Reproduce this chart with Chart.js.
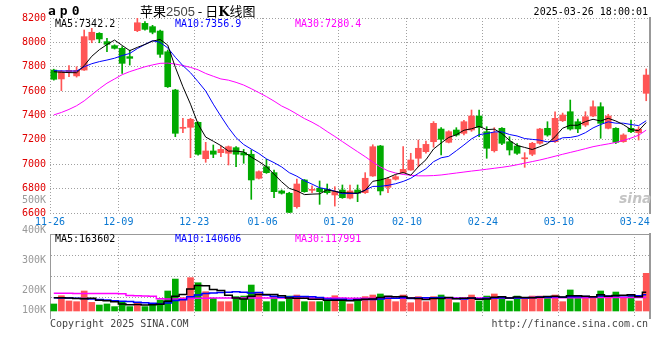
<!DOCTYPE html>
<html><head><meta charset="utf-8">
<script src="https://cdn.jsdelivr.net/npm/chart.js@4"></script>
<style>
html,body{margin:0;padding:0;background:#fff;}
#wrap{position:relative;width:660px;height:360px;overflow:hidden;font-family:'DejaVu Sans Mono',monospace;}
canvas{position:absolute;left:0;}
#cA{top:0;}
#cB{top:190px;}
.t{position:absolute;white-space:nowrap;font-size:10px;line-height:12px;font-family:'DejaVu Sans Mono',monospace;}
</style></head><body>
<div id="wrap">
<canvas id="cA" width="660" height="236"></canvas>
<canvas id="cB" width="660" height="170"></canvas>
<div class="t" style="left:48px;top:3px;font:bold 13px 'DejaVu Sans Mono';letter-spacing:4px;line-height:15px;">ap0</div>
<div class="t" style="left:140px;top:3px;font-size:13px;line-height:15px;font-family:'Noto Sans CJK SC';color:#000;">苹果<span style="color:#444;font-family:'Liberation Sans';">2505</span> - 日<b style="font-family:'DejaVu Serif';">K</b>线图</div>
<div class="t" style="right:12px;top:6px;color:#000;">2025-03-26 18:00:01</div>
<div class="t" style="left:55px;top:18px;color:#000;">MA5:7342.2</div>
<div class="t" style="left:175px;top:18px;color:#0000ff;">MA10:7356.9</div>
<div class="t" style="left:295px;top:18px;color:#ff00ff;">MA30:7280.4</div>
<div class="t" style="left:55px;top:233px;color:#000;">MA5:163602</div>
<div class="t" style="left:175px;top:233px;color:#0000ff;">MA10:140606</div>
<div class="t" style="left:295px;top:233px;color:#ff00ff;">MA30:117991</div>
<div class="t" style="left:619px;top:190px;font:italic bold 14px 'DejaVu Sans';line-height:16px;color:#c4c4c4;">sina</div>
<div class="t" style="left:50px;top:318px;color:#444;">Copyright 2025 SINA.COM</div>
<div class="t" style="right:12px;top:318px;color:#444;">http://finance.sina.com.cn</div>
</div>
<script>
const dates = [
 '11-26','11-27','11-28','11-29',
 '12-02','12-03','12-04','12-05','12-06','12-09','12-10','12-11','12-12','12-13',
 '12-16','12-17','12-18','12-19','12-20','12-23','12-24','12-25','12-26','12-27','12-30','12-31',
 '01-02','01-03','01-06','01-07','01-08','01-09','01-10','01-13','01-14','01-15','01-16','01-17',
 '01-20','01-21','01-22','01-23','01-24','01-27',
 '02-05','02-06','02-07','02-10','02-11','02-12','02-13','02-14','02-17','02-18','02-19','02-20','02-21',
 '02-24','02-25','02-26','02-27','02-28',
 '03-03','03-04','03-05','03-06','03-07','03-10','03-11','03-12','03-13','03-14',
 '03-17','03-18','03-19','03-20','03-21','03-24','03-25'
];
const xTickDates = ['11-26','12-09','12-23','01-06','01-20','02-10','02-24','03-10','03-24'];
const priceTicks = [6600,6800,7000,7200,7400,7600,7800,8000,8200];
const volTickLabels = ['100K','200K','300K','400K','500K'];
const volTickValues = [100000,200000,300000,400000,500000];

const opens = [
 7773,7700,7760,7725,7773,8020,8074,8006,7973,7951,
 7883,8096,8156,8129,8093,7923,7609,7295,7303,7344,
 7046,7109,7095,7090,7136,7095,7082,6885,6980,6931,
 6781,6762,6652,6871,6786,6803,6794,6748,6789,6722,
 6789,6767,6904,7150,6811,6877,6931,6953,7049,7103,
 7185,7289,7180,7281,7254,7281,7396,7267,7111,7295,
 7185,7150,7045,7082,7172,7295,7185,7357,7431,7349,
 7322,7396,7472,7295,7295,7185,7295,7259,7582];
const highs = [
 7780,7770,7809,7800,8101,8115,8080,8033,7980,7965,
 7937,8197,8170,8140,8101,7937,7615,7377,7377,7349,
 7180,7158,7150,7150,7145,7122,7117,6945,7041,6953,
 6790,6770,6879,6875,6822,6863,6838,6816,6830,6830,
 6830,6931,7160,7155,6890,6910,7144,7090,7199,7190,
 7350,7300,7275,7300,7360,7445,7445,7308,7300,7300,
 7226,7170,7095,7180,7295,7349,7430,7420,7527,7370,
 7431,7521,7505,7410,7300,7250,7363,7308,7782];
const lows = [
 7690,7604,7718,7715,7770,7997,7997,7923,7945,7746,
 7814,8088,8100,8070,7877,7630,7226,7259,7054,7075,
 7016,7054,7062,6994,6980,7008,6712,6880,6925,6726,
 6755,6600,6640,6770,6767,6671,6755,6657,6720,6715,
 6693,6760,6900,6748,6767,6870,6926,6950,6980,7090,
 7140,7076,7175,7230,7240,7270,7226,7049,7100,7160,
 7076,7080,6975,7070,7165,7230,7180,7350,7280,7260,
 7310,7390,7213,7290,7170,7180,7260,7199,7521];
const closes = [
 7697,7760,7770,7770,8047,8083,8028,7984,7951,7828,
 7869,8161,8107,8083,7902,7636,7254,7303,7369,7082,
 7109,7082,7122,7144,7082,7076,6871,6939,6931,6775,
 6762,6605,6838,6775,6794,6775,6767,6775,6726,6781,
 6762,6885,7144,6781,6877,6898,6958,7035,7131,7163,
 7336,7205,7267,7240,7349,7396,7303,7131,7259,7172,
 7117,7090,7052,7172,7289,7240,7377,7404,7289,7290,
 7390,7472,7336,7396,7180,7240,7267,7287,7732];
const ma5 = [
 7759,7755,7752,7751,7809,7886,7940,7982,8019,7975,
 7932,7959,7983,8010,8024,7978,7796,7636,7493,7329,
 7223,7189,7153,7108,7108,7101,7059,7022,6980,6918,
 6856,6802,6782,6751,6755,6757,6790,6777,6767,6765,
 6762,6786,6860,6871,6890,6917,6932,6910,6980,7037,
 7125,7174,7220,7242,7279,7291,7311,7284,7288,7252,
 7196,7154,7138,7121,7144,7169,7226,7296,7320,7320,
 7350,7369,7355,7377,7355,7325,7284,7275,7342];
const ma10 = [
 7768,7766,7765,7765,7800,7825,7842,7855,7870,7892,
 7909,7949,7983,8014,8000,7955,7878,7809,7751,7677,
 7601,7493,7394,7300,7218,7162,7124,7088,7044,7013,
 6978,6931,6902,6865,6837,6807,6796,6780,6759,6760,
 6760,6788,6818,6819,6827,6840,6859,6885,6925,6963,
 7021,7053,7065,7111,7158,7208,7243,7252,7265,7266,
 7244,7232,7211,7204,7198,7183,7190,7217,7220,7232,
 7259,7298,7326,7348,7337,7337,7326,7317,7357];
const ma30 = [
 7405,7425,7450,7480,7520,7570,7620,7665,7700,7735,
 7760,7780,7800,7815,7828,7830,7822,7810,7795,7775,
 7745,7722,7700,7690,7672,7650,7620,7588,7555,7518,
 7478,7448,7412,7375,7345,7310,7268,7228,7186,7144,
 7103,7062,7018,6978,6946,6928,6916,6910,6905,6905,
 6907,6912,6920,6928,6936,6944,6951,6959,6967,6975,
 6984,6996,7009,7022,7035,7050,7066,7082,7097,7112,
 7128,7144,7156,7167,7179,7195,7215,7238,7280];
const volumes = [
 61000,133000,87000,81000,174000,75000,52000,61000,38000,81000,
 38000,67000,38000,52000,96000,174000,278000,116000,290000,246000,
 168000,110000,81000,81000,125000,130000,226000,151000,81000,125000,
 81000,130000,139000,81000,81000,81000,87000,133000,87000,61000,
 110000,125000,139000,148000,125000,81000,139000,72000,125000,81000,
 125000,139000,116000,72000,96000,139000,87000,130000,148000,110000,
 87000,130000,116000,130000,130000,125000,139000,81000,183000,130000,
 110000,110000,174000,116000,165000,116000,139000,87000,328000];
const volMa5 = [
 115000,115000,112000,108000,107000,110000,94000,89000,80000,61000,
 54000,57000,52000,55000,58000,85000,128000,143000,191000,221000,
 220000,186000,179000,137000,113000,105000,129000,143000,143000,143000,
 133000,114000,111000,111000,102000,102000,94000,93000,94000,90000,
 96000,103000,104000,117000,129000,124000,126000,113000,108000,100000,
 108000,108000,117000,107000,110000,112000,102000,105000,120000,123000,
 112000,121000,118000,115000,119000,126000,128000,121000,132000,132000,
 129000,123000,141000,128000,135000,136000,142000,125000,163602];
const volMa10 = [
 115000,113000,112000,110000,108000,105000,100000,95000,90000,84000,
 82000,75000,71000,68000,60000,70000,92000,98000,123000,140000,
 153000,157000,161000,164000,167000,163000,157000,161000,140000,128000,
 119000,121000,127000,127000,123000,118000,104000,102000,103000,96000,
 99000,99000,99000,105000,110000,110000,115000,109000,113000,115000,
 116000,117000,115000,108000,105000,110000,105000,111000,113000,116000,
 112000,112000,112000,117000,121000,119000,125000,120000,123000,125000,
 127000,125000,131000,130000,133000,132000,132000,133000,140606];
const volMa30 = [
 154000,154000,154000,153000,153000,153000,152000,152000,152000,151000,
 135000,132000,130000,128000,106000,105000,105000,106000,108000,110000,
 110000,112000,112000,112000,113000,113000,113000,114000,114000,114000,
 114000,114000,113000,113000,113000,112000,112000,112000,112000,111000,
 111000,111000,111000,111000,111000,111000,111000,112000,112000,112000,
 112000,113000,113000,113000,113000,113000,114000,114000,114000,114000,
 115000,115000,115000,115000,115000,115000,116000,116000,116000,116000,
 116000,117000,117000,117000,117000,117000,118000,118000,117991];

const RED = '#ff5555', GREEN = '#00aa00', GRID = '#a0a0a0';
const FONT = {family: "'DejaVu Sans Mono', monospace", size: 10};
const candleColors = opens.map((o, i) => closes[i] >= o ? RED : GREEN);
const isTickIdx = (i) => i < dates.length && xTickDates.includes(dates[i]);
const xGridColor = (c) => isTickIdx(c.index) ? GRID : 'rgba(0,0,0,0)';
const lineDs = (data, color, w, extra) => Object.assign({type: 'line', data, borderColor: color, borderWidth: w, pointRadius: 0, tension: 0, fill: false, order: 1}, extra || {});

new Chart(document.getElementById('cA'), {
  type: 'bar',
  data: {
    labels: dates,
    datasets: [
      lineDs(ma5, '#000000', 1),
      lineDs(ma10, '#0000ff', 1),
      lineDs(ma30, '#ff00ff', 1),
      {type: 'bar', data: lows.map((l, i) => [l, highs[i]]), backgroundColor: candleColors, barThickness: 1, grouped: false, order: 3},
      {type: 'bar', data: opens.map((o, i) => [o, closes[i]]), backgroundColor: candleColors, barThickness: 6, minBarLength: 1, grouped: false, order: 2}
    ]
  },
  options: {
    responsive: false, animation: false, events: [], devicePixelRatio: 1,
    layout: {padding: {top: 18, right: 10, left: 0, bottom: 0}},
    plugins: {legend: {display: false}, tooltip: {enabled: false}},
    scales: {
      x: {
        offset: true,
        grid: {offset: true, drawTicks: false, color: xGridColor},
        border: {display: false, dash: [1, 2]},
        ticks: {autoSkip: false, maxRotation: 0, minRotation: 0, padding: 3, labelOffset: -3.8, color: '#0a78d2', font: FONT,
          callback: (v, i) => isTickIdx(i) ? dates[i] : ''},
        afterFit: (s) => { s.height = 23; }
      },
      y: {
        position: 'left', min: priceTicks[0], max: priceTicks[priceTicks.length - 1],
        afterBuildTicks: (s) => { s.ticks = priceTicks.map(v => ({value: v})); },
        ticks: {color: '#e00000', padding: 4, font: FONT, callback: (v) => String(v)},
        grid: {drawTicks: false, color: GRID},
        border: {display: false, dash: [1, 2]},
        afterFit: (s) => { s.width = 50; }
      },
      y2: {
        position: 'right', min: priceTicks[0], max: priceTicks[priceTicks.length - 1],
        ticks: {display: false}, grid: {display: false, drawTicks: false},
        border: {display: true, color: '#999999', width: 2},
        afterFit: (s) => { s.width = 0; }
      }
    }
  }
});

const volLabelPlugin = {
  id: 'volLabels',
  afterDraw(chart) {
    const s = chart.scales.yl, a = chart.chartArea, ctx = chart.ctx;
    ctx.save();
    ctx.font = "10px 'DejaVu Sans Mono', monospace";
    ctx.fillStyle = '#999999';
    ctx.textAlign = 'right';
    ctx.textBaseline = 'middle';
    volTickValues.forEach((v, i) => {
      const y = Math.min(s.getPixelForValue(v), a.bottom - 8);
      ctx.fillText(volTickLabels[i], a.left - 4, y);
    });
    ctx.restore();
  }
};

new Chart(document.getElementById('cB'), {
  type: 'bar',
  data: {
    labels: dates,
    datasets: [
      lineDs(volMa5, '#000000', 1.5, {stepped: 'middle'}),
      lineDs(volMa10, '#0000ff', 1.5, {stepped: 'middle'}),
      lineDs(volMa30, '#ff00ff', 1.5, {stepped: 'middle'}),
      {type: 'bar', data: volumes, backgroundColor: candleColors, barThickness: 6, order: 2}
    ]
  },
  options: {
    responsive: false, animation: false, events: [], devicePixelRatio: 1,
    layout: {padding: {top: 44, right: 10, left: 0, bottom: 0}},
    plugins: {legend: {display: false}, tooltip: {enabled: false}},
    scales: {
      x: {
        offset: true,
        grid: {offset: true, drawTicks: false, color: xGridColor},
        border: {display: false, dash: [1, 2]},
        ticks: {display: false, autoSkip: false},
        afterFit: (s) => { s.height = 42; }
      },
      y: {
        position: 'left', min: -61000, max: 670000,
        afterBuildTicks: (s) => { s.ticks = [0, 1, 2, 3, 4].map(k => ({value: s.min + (s.max - s.min) * k / 4})); },
        ticks: {display: false},
        grid: {drawTicks: false, color: (c) => c.index === 0 ? 'rgba(0,0,0,0)' : (c.index === 4 ? '#999999' : GRID)},
        border: {display: true, color: '#999999', width: 1, dash: (c) => (c.index === 4 ? [] : [1, 2])},
        afterFit: (s) => { s.width = 50; }
      },
      yl: {
        position: 'left', min: 106667, max: 386667,
        ticks: {display: false}, grid: {display: false, drawTicks: false}, border: {display: false},
        afterFit: (s) => { s.width = 0; }
      },
      y2: {
        position: 'right', min: -61000, max: 670000,
        ticks: {display: false}, grid: {display: false, drawTicks: false},
        border: {display: true, color: '#999999', width: 2},
        afterFit: (s) => { s.width = 0; }
      }
    }
  },
  plugins: [volLabelPlugin]
});
</script>
</body></html>
